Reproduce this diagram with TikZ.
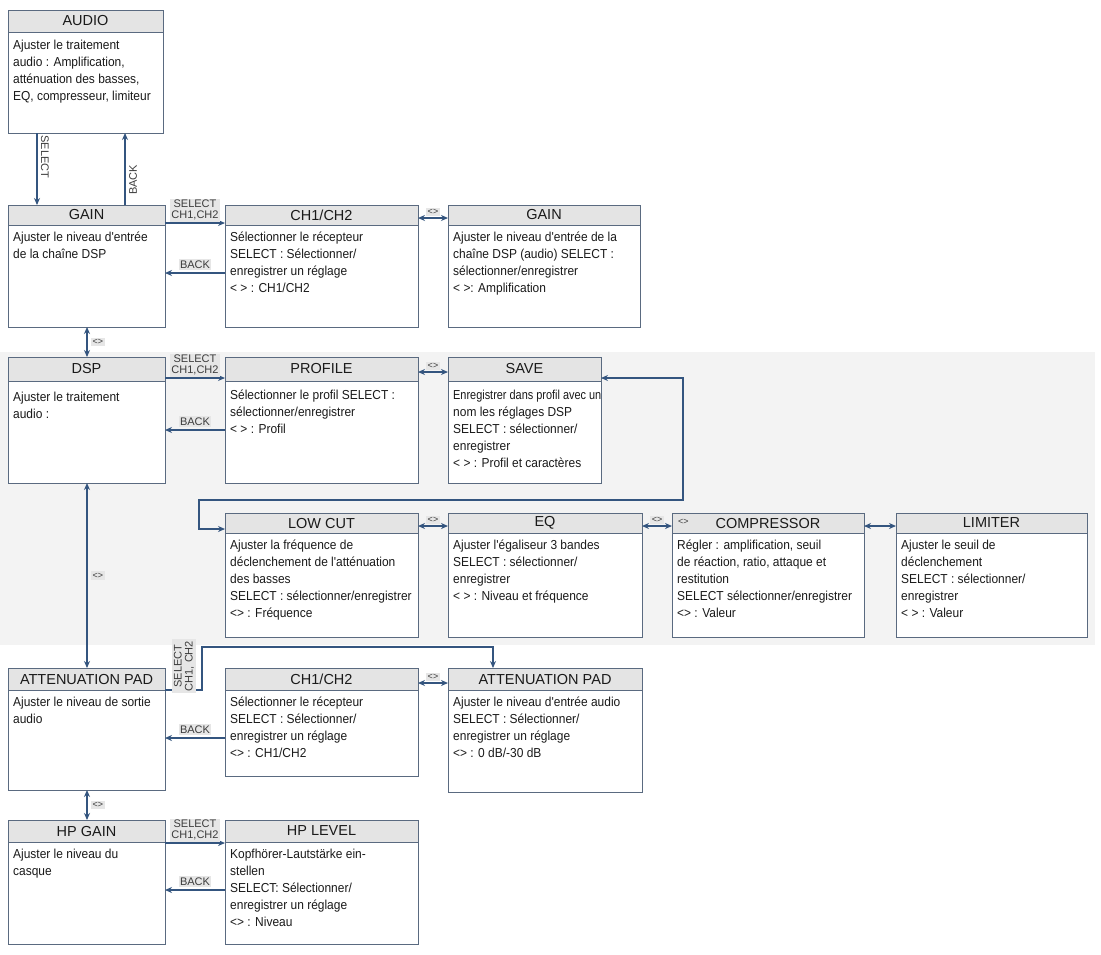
\documentclass[tikz,border=0pt]{standalone}
\usepackage{fontspec}
\setmainfont{Liberation Sans}
\newfontfamily\bodyf[FakeStretch=0.92]{Liberation Sans}
\newfontfamily\bodyn[FakeStretch=0.84]{Liberation Sans}
\usetikzlibrary{arrows.meta,calc}
\definecolor{bordc}{HTML}{5A6A80}
\definecolor{hdrc}{HTML}{E4E4E4}
\definecolor{arrc}{HTML}{34557F}
\definecolor{lblbg}{HTML}{E6E6E6}
\definecolor{bandc}{HTML}{F3F3F3}
\definecolor{txtc}{HTML}{1A1A1A}
\tikzset{
  boxst/.style={draw=none, fill=white, inner sep=0pt, outer sep=0pt},
  hdrst/.style={font=\fontsize{14.5}{16}\selectfont, text=txtc, inner sep=0pt},
  bodyst/.style={font=\fontsize{13}{17}\bodyf, text=txtc, align=left, inner sep=0pt},
  lblst/.style={font=\fontsize{11}{12}\selectfont, text=txtc!85, fill=lblbg, inner sep=1.5pt, align=center},
  lblplain/.style={font=\fontsize{11}{12}\selectfont, text=txtc!85, inner sep=1pt, align=center},
  arr/.style={draw=arrc, line width=1.8pt, -{Stealth[length=7pt,width=6pt]}},
  darr/.style={draw=arrc, line width=1.8pt, {Stealth[length=7pt,width=6pt]}-{Stealth[length=7pt,width=6pt]}},
}
\newcommand\mkbox[9]{%
  \node[boxst, anchor=north west, minimum width={(#4-#2)*1pt}, minimum height={(#5-#3)*1pt}] (#1) at (#2,-#3) {};
  \fill[hdrc] (#1.north west) rectangle ([yshift=-#6pt]#1.north east);
  \draw[bordc, line width=0.9pt] ([yshift=-#6pt]#1.north west) -- ([yshift=-#6pt]#1.north east);
  \draw[bordc, line width=0.9pt] (#1.north west) rectangle (#1.south east);
  \node[hdrst] (#1-t) at ([yshift={-#6pt/2}]#1.north) {#7};
  \node[bodyst, anchor=north west] (#1-b) at ([shift={(5pt,{-#6pt-#9pt})}]#1.north west) {#8};
}
\begin{document}
\begin{tikzpicture}[x=1pt,y=1pt]
\useasboundingbox (0,0) rectangle (1101,-954);
\fill[white] (0,0) rectangle (1101,-954);
\fill[bandc] (0,-352) rectangle (1095,-645);

\mkbox{audio}{8}{10}{163}{133}{22}{AUDIO}{Ajuster le traitement\\ audio : Amplification,\\ atténuation des basses,\\ EQ, compresseur, limiteur}{8}
\mkbox{gainl}{8}{205}{165}{327}{20}{GAIN}{Ajuster le niveau d'entrée\\ de la chaîne DSP}{7}
\mkbox{ch1a}{225}{205}{418}{327}{20}{CH1/CH2}{Sélectionner le récepteur\\ SELECT : Sélectionner/\\ enregistrer un réglage\\ < > : CH1/CH2}{7}
\mkbox{gainr}{448}{205}{640}{327}{20}{GAIN}{Ajuster le niveau d'entrée de la\\ chaîne DSP (audio) SELECT :\\ sélectionner/enregistrer\\ < >: Amplification}{7}
\mkbox{dsp}{8}{357}{165}{483}{24}{DSP}{Ajuster le traitement\\ audio :}{11}
\mkbox{profile}{225}{357}{418}{483}{24}{PROFILE}{Sélectionner le profil SELECT :\\ sélectionner/enregistrer\\ < > : Profil}{9}
\mkbox{save}{448}{357}{601}{483}{24}{SAVE}{{\bodyn Enregistrer dans profil avec un}\\ nom les réglages DSP\\ SELECT : sélectionner/\\ enregistrer\\ < > : Profil et caractères}{9}
\mkbox{lowcut}{225}{513}{418}{637}{20}{LOW CUT}{Ajuster la fréquence de\\ déclenchement de l'atténuation\\ des basses\\ SELECT : sélectionner/enregistrer\\ <> : Fréquence}{7}
\mkbox{eq}{448}{513}{642}{637}{20}{EQ}{Ajuster l'égaliseur 3 bandes\\ SELECT : sélectionner/\\ enregistrer\\ < > : Niveau et fréquence}{7}
\mkbox{comp}{672}{513}{864}{637}{20}{COMPRESSOR}{Régler : amplification, seuil\\ de réaction, ratio, attaque et\\ restitution\\ SELECT sélectionner/enregistrer\\ <> : Valeur}{7}
\mkbox{limiter}{896}{513}{1087}{637}{20}{LIMITER}{Ajuster le seuil de\\ déclenchement\\ SELECT : sélectionner/\\ enregistrer\\ < > : Valeur}{7}
\mkbox{attl}{8}{668}{165}{790}{22}{ATTENUATION PAD}{Ajuster le niveau de sortie\\ audio}{7}
\mkbox{ch1b}{225}{668}{418}{776}{22}{CH1/CH2}{Sélectionner le récepteur\\ SELECT : Sélectionner/\\ enregistrer un réglage\\ <> : CH1/CH2}{7}
\mkbox{attr}{448}{668}{642}{792}{22}{ATTENUATION PAD}{Ajuster le niveau d'entrée audio\\ SELECT : Sélectionner/\\ enregistrer un réglage\\ <> : 0 dB/-30 dB}{7}
\mkbox{hpgain}{8}{820}{165}{944}{22}{HP GAIN}{Ajuster le niveau du\\ casque}{7}
\mkbox{hplevel}{225}{820}{418}{944}{22}{HP LEVEL}{Kopfhörer-Lautstärke ein-\\ stellen\\ SELECT: Sélectionner/\\ enregistrer un réglage\\ <> : Niveau}{7}

% AUDIO <-> GAIN
\draw[arr] ([xshift=29pt]audio.south west) -- ([xshift=29pt]gainl.north west);
\draw[arr] ([xshift=117pt]gainl.north west) -- ([xshift=117pt]audio.south west);
\node[lblplain, rotate=-90] (lsel0) at (45,-157) {SELECT};
\node[lblplain, rotate=90] (lback0) at (133,-180) {BACK};

% row 1
\draw[arr] ([yshift=-18pt]gainl.north east) coordinate (s1a) -- ([yshift=-18pt]ch1a.north west) coordinate (s1b);
\node[lblst, anchor=south] (lsel1) at ($(s1a)!0.5!(s1b)+(0,1)$) {SELECT\\[-1pt]CH1,CH2};
\draw[arr] ([yshift=-68pt]ch1a.north west) coordinate (b1a) -- ([yshift=-68pt]gainl.north east) coordinate (b1b);
\node[lblst, anchor=south] (lback1) at ($(b1a)!0.5!(b1b)+(0,3)$) {BACK};
\draw[darr] ([yshift=-13pt]ch1a.north east) coordinate (d1a) -- ([yshift=-13pt]gainr.north west) coordinate (d1b);
\node[lblst, anchor=south, font=\fontsize{9}{10}\selectfont] (ld1) at ($(d1a)!0.5!(d1b)+(0,2)$) {<>};

% GAIN <-> DSP
\draw[darr] ([xshift=79pt]gainl.south west) coordinate (v1a) -- ([xshift=79pt]dsp.north west) coordinate (v1b);
\node[lblst, anchor=west, font=\fontsize{9}{10}\selectfont] (lv1) at ($(v1a)!0.5!(v1b)+(4,0)$) {<>};

% row 2
\draw[arr] ([yshift=-21pt]dsp.north east) coordinate (s2a) -- ([yshift=-21pt]profile.north west) coordinate (s2b);
\node[lblst, anchor=south] (lsel2) at ($(s2a)!0.5!(s2b)+(0,1)$) {SELECT\\[-1pt]CH1,CH2};
\draw[arr] ([yshift=-73pt]profile.north west) coordinate (b2a) -- ([yshift=-73pt]dsp.north east) coordinate (b2b);
\node[lblst, anchor=south] (lback2) at ($(b2a)!0.5!(b2b)+(0,3)$) {BACK};
\draw[darr] ([yshift=-15pt]profile.north east) coordinate (d2a) -- ([yshift=-15pt]save.north west) coordinate (d2b);
\node[lblst, anchor=south, font=\fontsize{9}{10}\selectfont] (ld2) at ($(d2a)!0.5!(d2b)+(0,2)$) {<>};

% SAVE <-> LOW CUT loop
\coordinate (lpR) at (683,-500);
\coordinate (lpL) at (199,-500);
\draw[darr] ([yshift=-21pt]save.north east) -| (lpR) -- (lpL) |- ([yshift=-16pt]lowcut.north west);

% row 3
\draw[darr] ([yshift=-13pt]lowcut.north east) coordinate (d3a) -- ([yshift=-13pt]eq.north west) coordinate (d3b);
\node[lblst, anchor=south, font=\fontsize{9}{10}\selectfont] (ld3) at ($(d3a)!0.5!(d3b)+(0,2)$) {<>};
\draw[darr] ([yshift=-13pt]eq.north east) coordinate (d4a) -- ([yshift=-13pt]comp.north west) coordinate (d4b);
\node[lblst, anchor=south, font=\fontsize{9}{10}\selectfont] (ld4) at ($(d4a)!0.5!(d4b)+(0,2)$) {<>};
\node[lblplain, anchor=west, font=\fontsize{9}{10}\selectfont] (lcomp) at ([shift={(5pt,-9pt)}]comp.north west) {<>};
\draw[darr] ([yshift=-13pt]comp.north east) -- ([yshift=-13pt]limiter.north west);

% DSP <-> ATT
\draw[darr] ([xshift=79pt]dsp.south west) coordinate (v2a) -- ([xshift=79pt]attl.north west) coordinate (v2b);
\node[lblst, anchor=west, font=\fontsize{9}{10}\selectfont] (lv2) at ($(v2a)!0.5!(v2b)+(4,0)$) {<>};

% row 4
\coordinate (selA) at (202,-647);
\draw[arr] ([yshift=-22pt]attl.north east) -| (selA) -| ([xshift=45pt]attr.north west);
\node[lblst, rotate=90] (lsel4) at (184,-666) {SELECT\\[-1pt]CH1, CH2};
\draw[arr] ([yshift=-70pt]ch1b.north west) coordinate (b4a) -- ([yshift=-70pt]attl.north east) coordinate (b4b);
\node[lblst, anchor=south] (lback4) at ($(b4a)!0.5!(b4b)+(0,3)$) {BACK};
\draw[darr] ([yshift=-15pt]ch1b.north east) coordinate (d5a) -- ([yshift=-15pt]attr.north west) coordinate (d5b);
\node[lblst, anchor=south, font=\fontsize{9}{10}\selectfont] (ld5) at ($(d5a)!0.5!(d5b)+(0,2)$) {<>};

% ATT <-> HP GAIN
\draw[darr] ([xshift=79pt]attl.south west) coordinate (v3a) -- ([xshift=79pt]hpgain.north west) coordinate (v3b);
\node[lblst, anchor=west, font=\fontsize{9}{10}\selectfont] (lv3) at ($(v3a)!0.5!(v3b)+(4,0)$) {<>};

% row 5
\draw[arr] ([yshift=-23pt]hpgain.north east) coordinate (s5a) -- ([yshift=-23pt]hplevel.north west) coordinate (s5b);
\node[lblst, anchor=south] (lsel5) at ($(s5a)!0.5!(s5b)+(0,1)$) {SELECT\\[-1pt]CH1,CH2};
\draw[arr] ([yshift=-70pt]hplevel.north west) coordinate (b5a) -- ([yshift=-70pt]hpgain.north east) coordinate (b5b);
\node[lblst, anchor=south] (lback5) at ($(b5a)!0.5!(b5b)+(0,3)$) {BACK};
\end{tikzpicture}
\end{document}
